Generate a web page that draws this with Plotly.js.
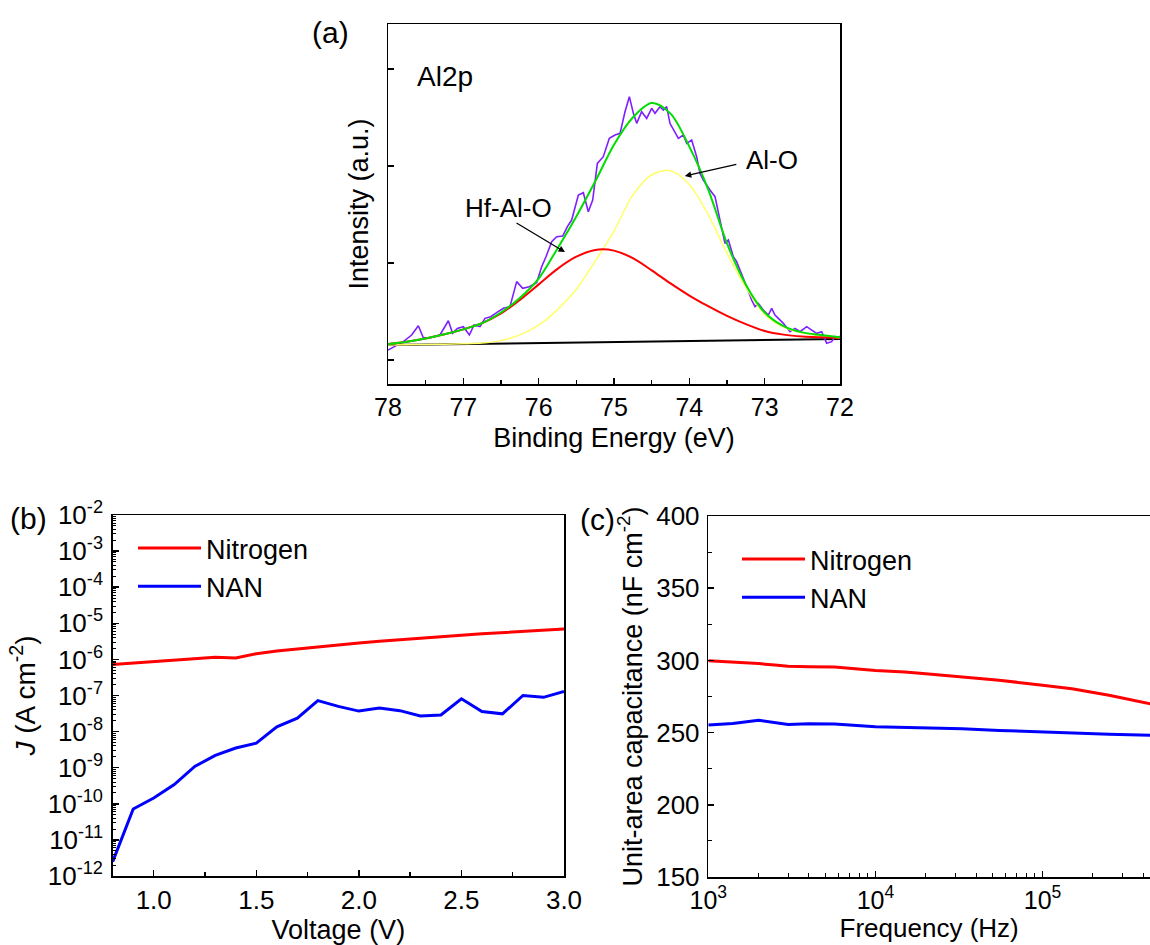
<!DOCTYPE html>
<html>
<head>
<meta charset="utf-8">
<script src="https://cdn.plot.ly/plotly-3.0.1.min.js"></script>
<style>
  html, body { margin: 0; padding: 0; background: #fff; overflow: hidden; }
  #chart { width: 1150px; height: 945px; }
</style>
</head>
<body>
<div id="chart"></div>
<script>
// ---------- Panel (a): Al2p XPS ----------
const fitEnergy = [78.00, 77.75, 77.50, 77.25, 77.00, 76.75, 76.50, 76.25, 76.00, 75.75, 75.50, 75.25, 75.00,
                   74.75, 74.50, 74.25, 74.00, 73.75, 73.50, 73.25, 73.00, 72.75, 72.50, 72.25, 72.00];
const fitEnvelope = [0.165, 0.189, 0.223, 0.265, 0.316, 0.380, 0.490, 0.640, 0.840, 1.150, 1.480, 1.840, 2.220,
                     2.500, 2.650, 2.540, 2.200, 1.760, 1.203, 0.777, 0.490, 0.350, 0.285, 0.258, 0.234];
const peakHfAlO = [0.165, 0.189, 0.223, 0.265, 0.316, 0.380, 0.480, 0.620, 0.780, 0.940, 1.065, 1.135, 1.128,
                   1.050, 0.925, 0.790, 0.665, 0.555, 0.455, 0.370, 0.300, 0.262, 0.243, 0.235, 0.230];
const peakAlO = [0.155, 0.158, 0.161, 0.164, 0.168, 0.175, 0.200, 0.260, 0.360, 0.520, 0.730, 1.020, 1.330,
                 1.700, 1.910, 1.952, 1.810, 1.500, 1.100, 0.750, 0.470, 0.340, 0.280, 0.245, 0.228];
const bgEnergy = [78, 72];
const bgIntensity = [0.155, 0.216];
const rawEnergy = [78.000, 77.907, 77.796, 77.686, 77.597, 77.531, 77.442, 77.310, 77.199, 77.142, 77.080, 77.000,
  76.920, 76.858, 76.779, 76.712, 76.637, 76.558, 76.469, 76.381, 76.292, 76.212, 76.124, 76.027, 75.960, 75.903,
  75.827, 75.761, 75.681, 75.619, 75.562, 75.473, 75.407, 75.341, 75.283, 75.221, 75.142, 75.062, 74.987, 74.920,
  74.854, 74.796, 74.743, 74.699, 74.633, 74.566, 74.500, 74.456, 74.389, 74.345, 74.301, 74.257, 74.212, 74.146,
  74.080, 74.035, 73.969, 73.903, 73.858, 73.814, 73.726, 73.659, 73.593, 73.527, 73.482, 73.416, 73.372, 73.305,
  73.239, 73.173, 73.128, 73.084, 73.018, 72.951, 72.907, 72.863, 72.752, 72.664, 72.597, 72.531, 72.442, 72.376,
  72.310, 72.243, 72.177, 72.111, 72.066, 72.022, 72.000];
const rawIntensity = [0.103, 0.144, 0.189, 0.258, 0.354, 0.230, 0.230, 0.258, 0.405, 0.275, 0.326, 0.344,
  0.258, 0.361, 0.344, 0.430, 0.447, 0.488, 0.533, 0.550, 0.808, 0.739, 0.756, 0.797, 0.962, 1.065,
  1.220, 1.271, 1.278, 1.375, 1.443, 1.701, 1.725, 1.529, 1.649, 2.027, 2.096, 2.285, 2.320, 2.337,
  2.560, 2.715, 2.543, 2.440, 2.560, 2.491, 2.595, 2.543, 2.612, 2.577, 2.612, 2.440, 2.371, 2.285,
  2.320, 2.234, 2.268, 2.096, 1.924, 1.856, 1.753, 1.684, 1.443, 1.203, 1.237, 1.065, 1.014, 0.893,
  0.756, 0.619, 0.550, 0.584, 0.515, 0.464, 0.533, 0.464, 0.378, 0.292, 0.326, 0.292, 0.344, 0.309,
  0.275, 0.292, 0.172, 0.189, 0.241, 0.223, 0.247];
const intensityTicks = [0, 1, 2, 3];

// ---------- Panel (b): J-V ----------
const voltage = [0.8, 0.9, 1.0, 1.1, 1.2, 1.3, 1.4, 1.5, 1.6, 1.7, 1.8, 1.9, 2.0, 2.1, 2.2, 2.3, 2.4, 2.5, 2.6, 2.7, 2.8, 2.9, 3.0];
const jNitrogen = [7.2e-7, 7.9e-7, 8.9e-7, 9.5e-7, 1.05e-6, 1.15e-6, 1.1e-6, 1.44e-6, 1.7e-6, 1.95e-6, 2.25e-6, 2.55e-6,
                   2.85e-6, 3.2e-6, 3.55e-6, 3.95e-6, 4.3e-6, 4.7e-6, 5.1e-6, 5.5e-6, 6.0e-6, 6.5e-6, 7.0e-6];
const jNAN = [2.5e-12, 7.2e-11, 1.45e-10, 3.4e-10, 1.08e-9, 2.2e-9, 3.5e-9, 4.8e-9, 1.35e-8, 2.35e-8, 7.2e-8, 5.0e-8,
              3.7e-8, 4.5e-8, 3.8e-8, 2.7e-8, 2.9e-8, 8.1e-8, 3.6e-8, 3.1e-8, 1.0e-7, 8.9e-8, 1.3e-7];
const jTickVals = [1e-2, 1e-3, 1e-4, 1e-5, 1e-6, 1e-7, 1e-8, 1e-9, 1e-10, 1e-11, 1e-12];
const jTickText = ['10<sup>-2</sup>', '10<sup>-3</sup>', '10<sup>-4</sup>', '10<sup>-5</sup>', '10<sup>-6</sup>', '10<sup>-7</sup>',
                   '10<sup>-8</sup>', '10<sup>-9</sup>', '10<sup>-10</sup>', '10<sup>-11</sup>', '10<sup>-12</sup>'];

// ---------- Panel (c): C-f ----------
const capFreq = [1000, 1400, 2000, 2500, 3000, 4000, 5700, 10000, 15000, 20000, 33000, 55000, 100000, 150000, 250000, 450000];
const capNitrogen = [299.7, 299.0, 297.8, 296.8, 296.0, 295.6, 295.5, 293.0, 292.0, 290.7, 288.6, 286.3, 282.8, 280.3, 275.9, 269.7];
const capNAN = [255.2, 256.3, 258.6, 257.0, 255.6, 256.2, 255.9, 254.0, 253.6, 253.3, 252.6, 251.5, 250.3, 249.8, 248.9, 248.2];
const freqTickVals = [1e3, 1e4, 1e5];
const freqTickText = ['10<sup>3</sup>', '10<sup>4</sup>', '10<sup>5</sup>'];

const FONT = 'Liberation Sans, Arial, Helvetica, sans-serif';

const traces = [
  {x: bgEnergy, y: bgIntensity, xaxis: 'x', yaxis: 'y', mode: 'lines', line: {color: '#000000', width: 2}, showlegend: false, name: 'Background'},
  {x: rawEnergy, y: rawIntensity, xaxis: 'x', yaxis: 'y', mode: 'lines', line: {color: '#7f1fff', width: 1.6}, showlegend: false, name: 'Raw'},
  {x: fitEnergy, y: peakAlO, xaxis: 'x', yaxis: 'y', mode: 'lines', line: {color: '#ffff66', width: 1.5, shape: 'spline', smoothing: 0.9}, showlegend: false, name: 'Al-O'},
  {x: fitEnergy, y: peakHfAlO, xaxis: 'x', yaxis: 'y', mode: 'lines', line: {color: '#ff0000', width: 2, shape: 'spline', smoothing: 0.9}, showlegend: false, name: 'Hf-Al-O'},
  {x: fitEnergy, y: fitEnvelope, xaxis: 'x', yaxis: 'y', mode: 'lines', line: {color: '#00dd00', width: 2, shape: 'spline', smoothing: 0.9}, showlegend: false, name: 'Fit'},

  {x: voltage, y: jNitrogen, xaxis: 'x2', yaxis: 'y2', mode: 'lines', line: {color: '#ff0000', width: 3}, name: 'Nitrogen', legend: 'legend'},
  {x: voltage, y: jNAN, xaxis: 'x2', yaxis: 'y2', mode: 'lines', line: {color: '#0000ff', width: 3}, name: 'NAN', legend: 'legend'},

  {x: capFreq, y: capNitrogen, xaxis: 'x3', yaxis: 'y3', mode: 'lines', line: {color: '#ff0000', width: 3}, name: 'Nitrogen', legend: 'legend2'},
  {x: capFreq, y: capNAN, xaxis: 'x3', yaxis: 'y3', mode: 'lines', line: {color: '#0000ff', width: 3}, name: 'NAN', legend: 'legend2'}
];

const axisBase = {
  showline: true, mirror: true, linecolor: '#000', linewidth: 1.5,
  ticks: 'inside', tickcolor: '#000', tickwidth: 1.5, ticklen: 6,
  showgrid: false, zeroline: false,
  tickfont: {family: FONT, size: 26, color: '#000'}
};
const titleFont = {family: FONT, size: 27, color: '#000'};

const layout = {
  width: 1150, height: 945,
  margin: {l: 0, r: 0, t: 0, b: 0},
  paper_bgcolor: '#fff', plot_bgcolor: '#fff',
  font: {family: FONT, color: '#000'},
  xaxis: Object.assign({}, axisBase, {
    domain: [388/1150, 840/1150], anchor: 'y', range: [78, 72], dtick: 1, tick0: 72,
    tickfont: {family: FONT, size: 25, color: '#000'},
    minor: {dtick: 0.5, ticks: 'inside', ticklen: 4, tickcolor: '#000', tickwidth: 1.5},
    title: {text: 'Binding Energy (eV)', font: titleFont, standoff: 8}
  }),
  yaxis: Object.assign({}, axisBase, {
    domain: [1 - 384/945, 1 - 24/945], anchor: 'x', range: [-0.247, 3.464],
    tickmode: 'array', tickvals: intensityTicks, showticklabels: false,
    title: {text: 'Intensity (a.u.)', font: titleFont, standoff: 10}
  }),
  xaxis2: Object.assign({}, axisBase, {
    domain: [112.7/1150, 564/1150], anchor: 'y2', range: [0.8, 3.0], dtick: 0.5, tick0: 0, tickformat: '.1f',
    minor: {dtick: 0.25, ticks: 'inside', ticklen: 4, tickcolor: '#000', tickwidth: 1.5},
    title: {text: 'Voltage (V)', font: titleFont, standoff: 4}
  }),
  yaxis2: Object.assign({}, axisBase, {
    domain: [1 - 876/945, 1 - 515/945], anchor: 'x2', type: 'log', range: [-12, -2],
    tickmode: 'array', tickvals: jTickVals, ticktext: jTickText, ticklabelstandoff: 3,
    minor: {dtick: 'D1', ticks: 'inside', ticklen: 3, tickcolor: '#000', tickwidth: 1},
    title: {text: '<i>J</i> (A cm<sup>-2</sup>)', font: {family: FONT, size: 28, color: '#000'}, standoff: 4}
  }),
  xaxis3: Object.assign({}, axisBase, {
    domain: [708.3/1150, 1], anchor: 'y3', type: 'log', range: [3, 5.643],
    tickmode: 'array', tickvals: freqTickVals, ticktext: freqTickText,
    tickfont: {family: FONT, size: 25, color: '#000'},
    minor: {dtick: 'D1', ticks: 'inside', ticklen: 4, tickcolor: '#000', tickwidth: 1},
    title: {text: 'Frequency (Hz)', font: {family: FONT, size: 26, color: '#000'}, standoff: 6}
  }),
  yaxis3: Object.assign({}, axisBase, {
    domain: [1 - 877/945, 1 - 516/945], anchor: 'x3', range: [150, 400], dtick: 50, ticklabelstandoff: 2,
    minor: {dtick: 25, ticks: 'inside', ticklen: 4, tickcolor: '#000', tickwidth: 1},
    title: {text: 'Unit-area capacitance (nF cm<sup>-2</sup>)', font: titleFont, standoff: 6}
  }),
  legend: {
    x: 133/1150, y: 1 - 524/945, xanchor: 'left', yanchor: 'top',
    bgcolor: 'rgba(0,0,0,0)', borderwidth: 0, itemwidth: 63, tracegroupgap: 0,
    font: {family: FONT, size: 27, color: '#000'}
  },
  legend2: {
    x: 737/1150, y: 1 - 535/945, xanchor: 'left', yanchor: 'top',
    bgcolor: 'rgba(0,0,0,0)', borderwidth: 0, itemwidth: 63, tracegroupgap: 0,
    font: {family: FONT, size: 27, color: '#000'}
  },
  annotations: [
    {text: '(a)', xref: 'paper', yref: 'paper', x: 330/1150, y: 1 - 33/945, xanchor: 'center', yanchor: 'middle', showarrow: false, font: {family: FONT, size: 30, color: '#000'}},
    {text: '(b)', xref: 'paper', yref: 'paper', x: 28/1150, y: 1 - 518/945, xanchor: 'center', yanchor: 'middle', showarrow: false, font: {family: FONT, size: 30, color: '#000'}},
    {text: '(c)', xref: 'paper', yref: 'paper', x: 597/1150, y: 1 - 519/945, xanchor: 'center', yanchor: 'middle', showarrow: false, font: {family: FONT, size: 30, color: '#000'}},
    {text: 'Al2p', xref: 'x', yref: 'y', x: 77.243, y: 2.92, xanchor: 'center', showarrow: false, font: {family: FONT, size: 28, color: '#000'}},
    {text: 'Hf-Al-O', xref: 'x', yref: 'y', x: 76.407, y: 1.567, xanchor: 'center', showarrow: false, font: {family: FONT, size: 26, color: '#000'}},
    {text: 'Al-O', xref: 'x', yref: 'y', x: 72.902, y: 2.062, xanchor: 'center', showarrow: false, font: {family: FONT, size: 26, color: '#000'}},
    {text: '', xref: 'x', yref: 'y', x: 75.65, y: 1.113, showarrow: true, ax: -50, ay: -30, arrowhead: 2, arrowsize: 1, arrowwidth: 1.3, arrowcolor: '#000', standoff: 0, startstandoff: 0},
    {text: '', xref: 'x', yref: 'y', x: 74.06, y: 1.897, showarrow: true, ax: 53, ay: -12, arrowhead: 2, arrowsize: 1, arrowwidth: 1.3, arrowcolor: '#000', standoff: 0, startstandoff: 0}
  ]
};

Plotly.newPlot('chart', traces, layout, {staticPlot: true, displayModeBar: false});
</script>
</body>
</html>
